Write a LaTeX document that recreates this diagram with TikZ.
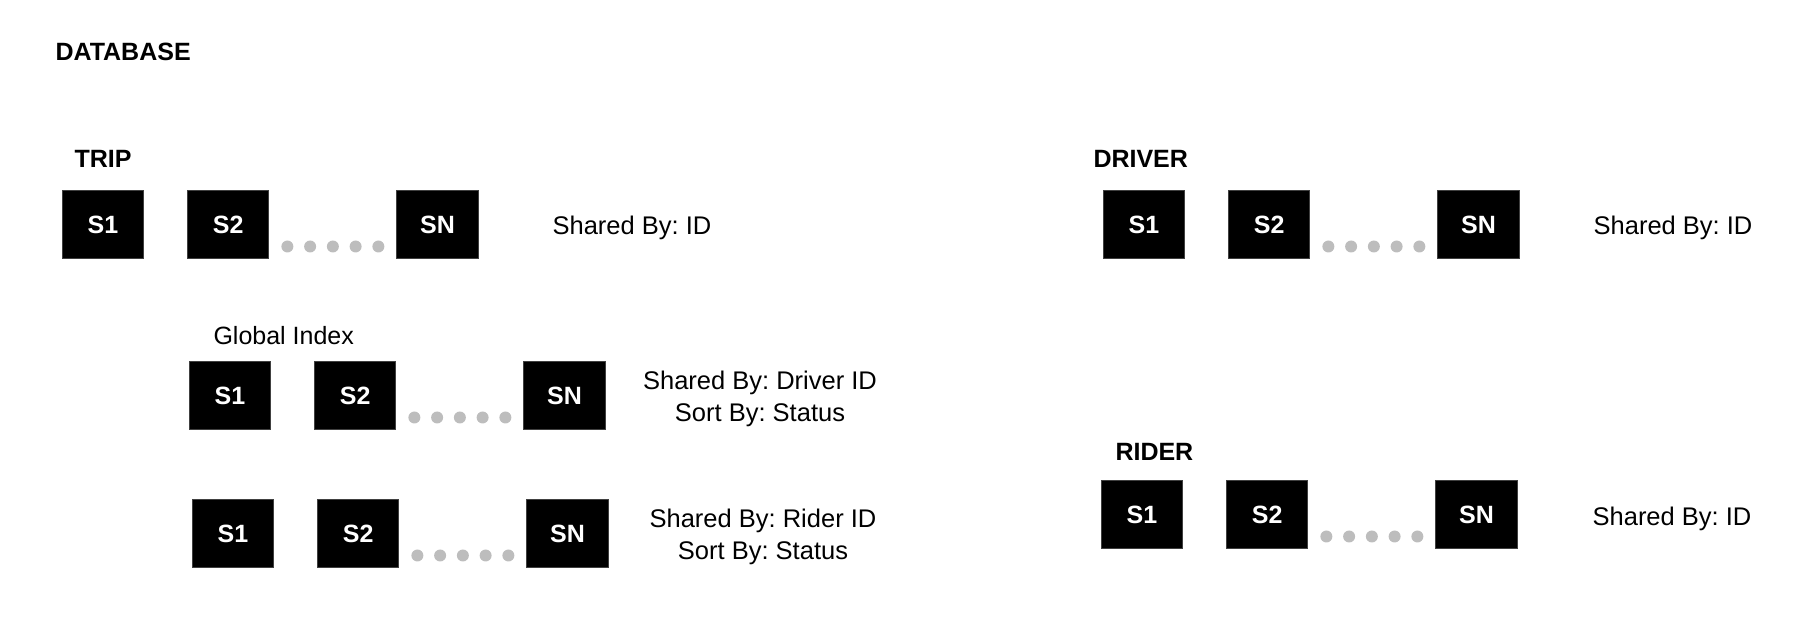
\documentclass[tikz,border=0pt]{standalone}
\usepackage{fontspec}
\setmainfont{Liberation Sans}
\usetikzlibrary{positioning,calc}
\definecolor{dotgray}{HTML}{BDBDBD}
\frenchspacing

\begin{document}
\begin{tikzpicture}[
    x=0.4pt, y=-0.4pt,
    node distance=17.2pt,
    shard/.style={rectangle, fill=black, draw=black!75, minimum width=32.5pt, minimum height=27.2pt, inner sep=0pt, text=white, font=\bfseries},
    title/.style={anchor=west, inner sep=0pt, font=\bfseries},
    keytext/.style={align=center, inner sep=0pt, font=\fontsize{10.2}{12.8}\selectfont},
    gapdot/.style={fill=dotgray}
]
\useasboundingbox (0,0) rectangle (1808,618);

% Header
\node[title] (database) at (55,52) {DATABASE};

% Trip table
\node[title] (trip) at (74,159) {TRIP};
\node[shard] (trip1) at (103,225) {S1};
\node[shard, right=of trip1] (trip2) {S2};
\node[shard, right=50.8pt of trip2] (tripn) {SN};
\node[keytext] (tripkey) at (632,228) {Shared By: ID};

% Global index on driver
\node[anchor=west, inner sep=0pt] (globalidx) at (213,336) {Global Index};
\node[shard] (drvidx1) at (230,396) {S1};
\node[shard, right=of drvidx1] (drvidx2) {S2};
\node[shard, right=50.8pt of drvidx2] (drvidxn) {SN};
\node[keytext] (drvidxkey) at (760,399) {Shared By: Driver ID\\Sort By: Status};

% Global index on rider
\node[shard] (rdridx1) at (233,534) {S1};
\node[shard, right=of rdridx1] (rdridx2) {S2};
\node[shard, right=50.8pt of rdridx2] (rdridxn) {SN};
\node[keytext] (rdridxkey) at (763,537) {Shared By: Rider ID\\Sort By: Status};

% Driver table
\node[title] (driver) at (1093,159) {DRIVER};
\node[shard] (driver1) at (1144,225) {S1};
\node[shard, right=of driver1] (driver2) {S2};
\node[shard, right=50.8pt of driver2] (drivern) {SN};
\node[keytext] (driverkey) at (1673,228) {Shared By: ID};

% Rider table
\node[title] (rider) at (1115,452) {RIDER};
\node[shard] (rider1) at (1142,515) {S1};
\node[shard, right=of rider1] (rider2) {S2};
\node[shard, right=50.8pt of rider2] (ridern) {SN};
\node[keytext] (riderkey) at (1672,519) {Shared By: ID};

% Dots between S2 and SN
\foreach \a in {trip2, drvidx2, rdridx2, driver2, rider2}
  \foreach \i in {0,...,4}
    \fill[gapdot] ($(\a.south east)+(18+22.75*\i,-13)$) circle (2.4pt);

\end{tikzpicture}
\end{document}
